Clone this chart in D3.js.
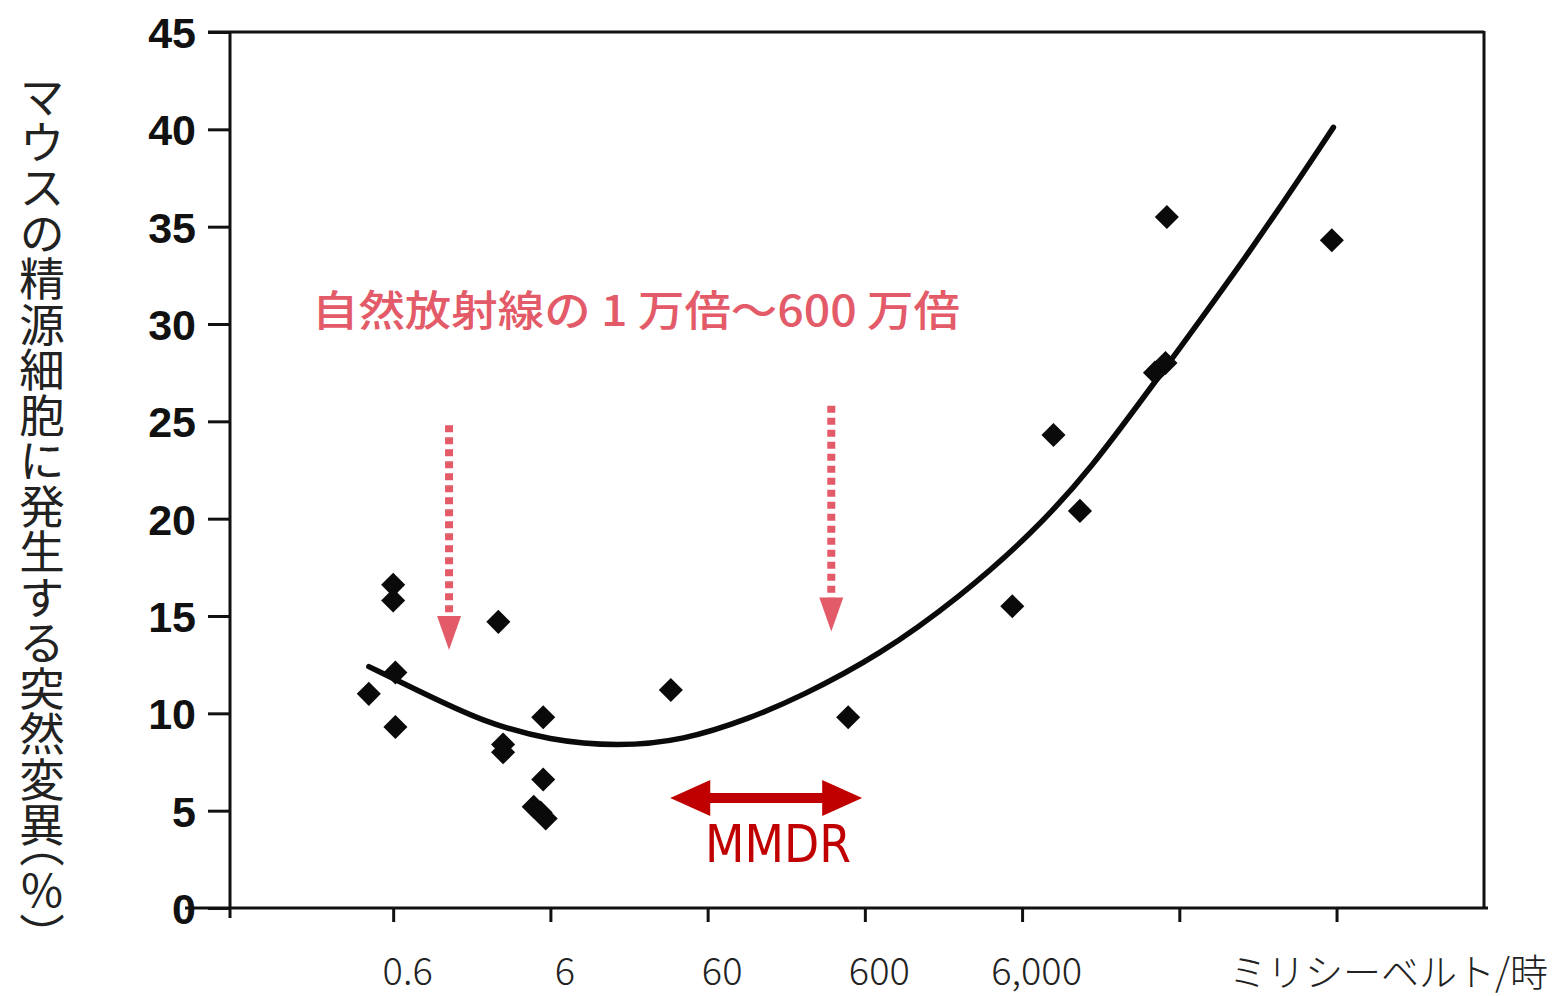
<!DOCTYPE html>
<html>
<head>
<meta charset="utf-8">
<title>マウスの精源細胞に発生する突然変異</title>
<script src="https://cdn.jsdelivr.net/npm/d3@7"></script>
<style>
    body { margin: 0; background: #fff; }
    .axis path, .axis line { stroke: #111; stroke-width: 3; }
    .ylab text { font-family: "Liberation Sans", Arial, sans-serif; font-weight: bold; font-size: 43px; fill: #111; }
    .xlab text { font-family: "Noto Sans CJK JP", "Noto Sans", sans-serif; font-weight: 300; font-size: 38px; fill: #222; }
</style>
</head>
<body>
<svg id="svg" width="1556" height="996"></svg>
<script>
    // 線量 (ミリシーベルト/時) と 突然変異率 (%)
    var doseValues = [0.42, 0.6, 0.6, 0.62, 0.62, 2.8, 3.0, 3.0, 5.4, 5.4, 4.7, 5.2, 5.6, 35, 470, 5200, 9500, 14000, 42000, 49000, 50000, 560000];
    var mutationValues = [11.0, 16.6, 15.8, 12.1, 9.3, 14.7, 8.4, 8.0, 9.8, 6.6, 5.2, 4.9, 4.6, 11.2, 9.8, 15.5, 24.3, 20.4, 27.5, 28.0, 35.5, 34.3];

    // 近似曲線
    var curveDose = [0.42, 0.85, 2.24, 6.0, 16, 42, 112, 233, 750, 2430, 6760, 16300, 45400, 170000, 573000];
    var curveValues = [12.4, 11.2, 9.55, 8.6, 8.3, 8.6, 9.75, 10.85, 13.0, 16.0, 19.15, 22.5, 27.4, 33.7, 40.1];

    var xTicks = [0.6, 6, 60, 600, 6000, 60000, 600000];
    var xTickLabels = ["0.6", "6", "60", "600", "6,000", "", ""];
    var yTicks = [0, 5, 10, 15, 20, 25, 30, 35, 40, 45];

    // 注記: 自然放射線の1万倍～600万倍, MMDR
    var pinkArrowDose = [1.36, 367];
    var pinkArrowTop = [24.8, 25.8];
    var pinkArrowTip = [13.25, 14.2];
    var mmdrRange = [34.7, 577];
    var mmdrLevel = 5.65;

    var svg = d3.select("#svg");
    var mLeft = 230, mRight = 1484, mTop = 32, mBottom = 908;

    var x = d3.scaleLog().domain([0.055, 5.2e6]).range([mLeft, mRight]);
    var y = d3.scaleLinear().domain([0, 45]).range([mBottom, mTop]);

    // 枠
    svg.append("line").attr("x1", mLeft - 22).attr("x2", mRight).attr("y1", y(45)).attr("y2", y(45))
        .attr("stroke", "#111").attr("stroke-width", 3);
    svg.append("line").attr("x1", mRight).attr("x2", mRight).attr("y1", y(45) - 1).attr("y2", mBottom)
        .attr("stroke", "#111").attr("stroke-width", 3);
    svg.append("line").attr("x1", mLeft).attr("x2", mLeft).attr("y1", y(45)).attr("y2", mBottom + 10)
        .attr("stroke", "#111").attr("stroke-width", 3);
    svg.append("line").attr("x1", mLeft - 45).attr("x2", mRight + 4).attr("y1", mBottom).attr("y2", mBottom)
        .attr("stroke", "#111").attr("stroke-width", 3);

    var yAxis = d3.axisLeft(y).tickValues(yTicks).tickSize(22).tickPadding(12).tickFormat(d3.format("d"));
    var ya = svg.append("g").attr("class", "axis ylab").attr("transform", "translate(" + mLeft + ",0)").call(yAxis);
    ya.select(".domain").remove();
    ya.selectAll("text").attr("dy", "0.36em");

    var xAxis = d3.axisBottom(x).tickValues(xTicks).tickSize(14).tickPadding(36)
        .tickFormat(function (d, i) { return xTickLabels[i]; });
    var xa = svg.append("g").attr("class", "axis xlab").attr("transform", "translate(0," + mBottom + ")").call(xAxis);
    xa.select(".domain").remove();
    xa.selectAll("text").attr("dx", 14);

    // 近似曲線
    var pts = curveDose.map(function (d, i) { return [x(d), y(curveValues[i])]; });
    svg.append("path")
        .attr("d", d3.line().curve(d3.curveBasis)(pts))
        .attr("fill", "none").attr("stroke", "#0a0a0a").attr("stroke-width", 5.5).attr("stroke-linecap", "round");

    // 散布点
    svg.selectAll(".pt")
        .data(doseValues)
        .enter().append("path")
        .attr("class", "pt")
        .attr("d", d3.symbol().type(d3.symbolSquare).size(290))
        .attr("transform", function (d, i) { return "translate(" + x(d) + "," + y(mutationValues[i]) + ") rotate(45)"; })
        .attr("fill", "#0a0a0a");

    // ピンクの点線矢印
    var pink = "#e35a68";
    pinkArrowDose.forEach(function (d, i) {
        var px = x(d), y0 = y(pinkArrowTop[i]), y1 = y(pinkArrowTip[i]);
        svg.append("line").attr("x1", px).attr("x2", px).attr("y1", y0).attr("y2", y1 - 32)
            .attr("stroke", pink).attr("stroke-width", 8).attr("stroke-dasharray", "7,5");
        svg.append("path")
            .attr("d", "M" + (px - 12) + "," + (y1 - 34) + "L" + (px + 12) + "," + (y1 - 34) + "L" + px + "," + y1 + "Z")
            .attr("fill", pink);
    });

    svg.append("text")
        .attr("x", 312).attr("y", 326)
        .attr("textLength", 648).attr("lengthAdjust", "spacingAndGlyphs")
        .style("font-family", "'Noto Sans CJK JP', sans-serif")
        .style("font-size", "42px").style("font-weight", 500)
        .style("fill", pink)
        .text("自然放射線の 1 万倍～600 万倍");

    // MMDR 両矢印
    var red = "#c00000";
    var mx0 = x(mmdrRange[0]), mx1 = x(mmdrRange[1]), my = y(mmdrLevel);
    svg.append("line").attr("x1", mx0 + 30).attr("x2", mx1 - 30).attr("y1", my).attr("y2", my)
        .attr("stroke", red).attr("stroke-width", 10);
    svg.append("path").attr("d", "M" + mx0 + "," + my + "L" + (mx0 + 40) + "," + (my - 18) + "L" + (mx0 + 40) + "," + (my + 18) + "Z").attr("fill", red);
    svg.append("path").attr("d", "M" + mx1 + "," + my + "L" + (mx1 - 40) + "," + (my - 18) + "L" + (mx1 - 40) + "," + (my + 18) + "Z").attr("fill", red);
    svg.append("text")
        .attr("x", 705).attr("y", 862)
        .attr("textLength", 146).attr("lengthAdjust", "spacingAndGlyphs")
        .style("font-family", "'DejaVu Sans', sans-serif")
        .style("font-size", "52px")
        .style("fill", red)
        .text("MMDR");

    // 軸タイトル
    svg.append("text")
        .attr("x", 1548).attr("y", 986)
        .attr("text-anchor", "end")
        .style("font-family", "'Noto Sans CJK JP', sans-serif")
        .style("font-size", "38px").style("font-weight", 300)
        .style("fill", "#222")
        .text("ミリシーベルト/時");

    var yTitle = svg.append("g")
        .style("writing-mode", "vertical-rl")
        .style("font-family", "'Noto Sans CJK JP', sans-serif")
        .style("font-size", "45.5px").style("font-weight", 400)
        .style("fill", "#222");
    yTitle.append("text").attr("x", 42).attr("y", 74).text("マウスの精源細胞に発生する突然変異");
    yTitle.append("text").attr("x", 42).attr("y", 822).text("（％）");
</script>
</body>
</html>
